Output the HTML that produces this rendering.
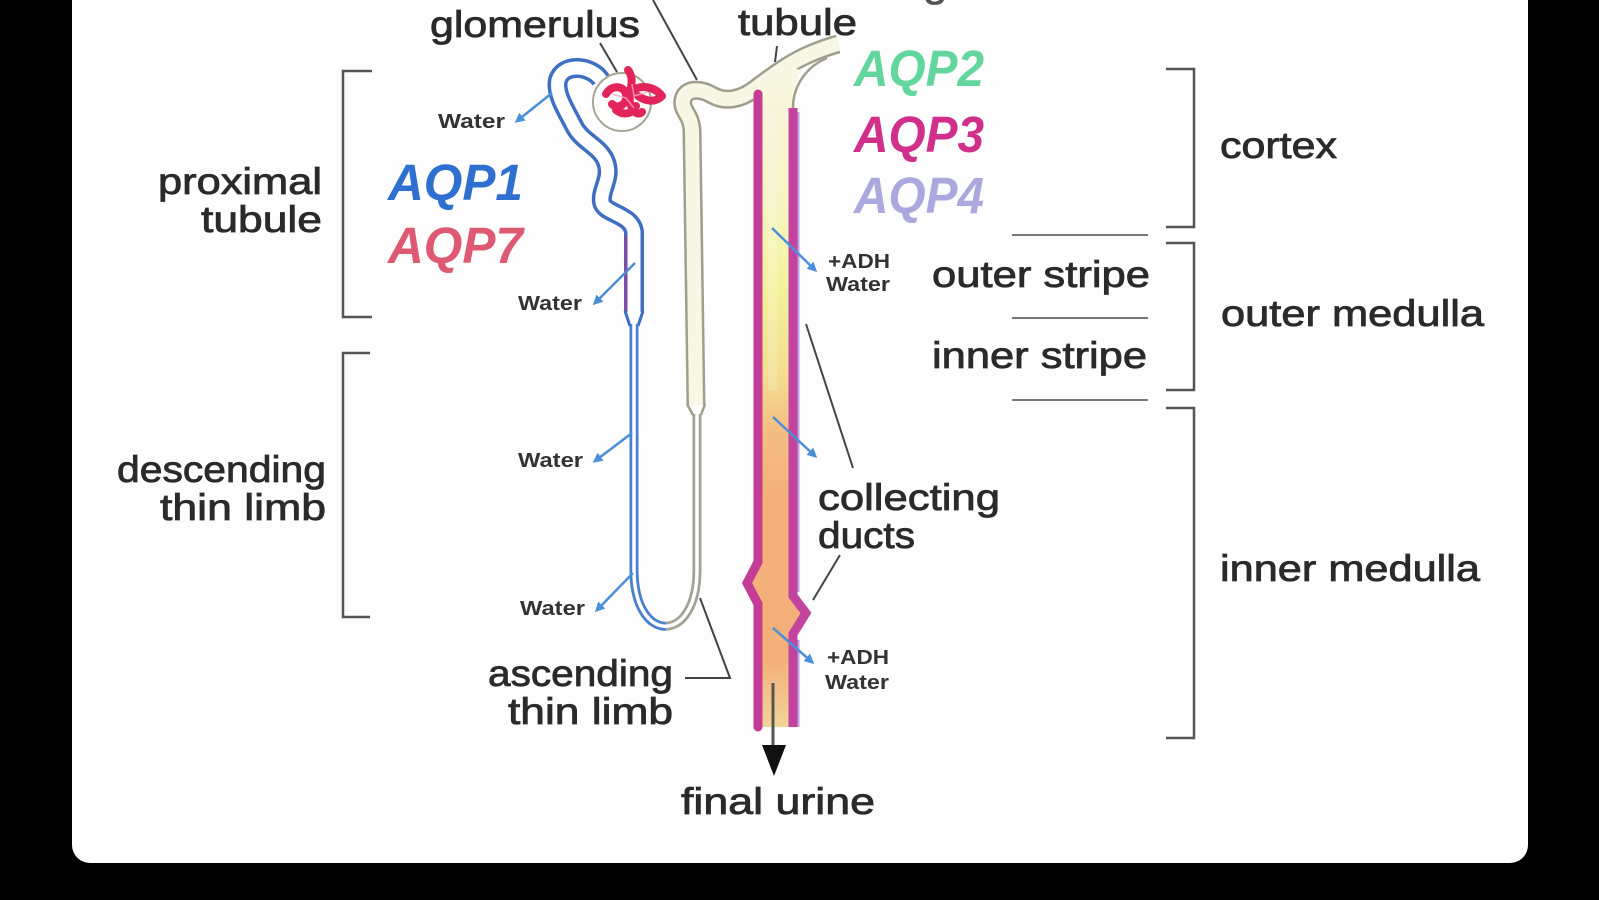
<!DOCTYPE html>
<html><head><meta charset="utf-8"><style>
html,body{margin:0;padding:0;background:#000;}
svg{display:block;}
.t{font-family:"Liberation Sans",sans-serif;font-size:37px;fill:#2a2a2a;stroke:#2a2a2a;stroke-width:0.8px;}
.s{font-family:"Liberation Sans",sans-serif;font-size:20px;font-weight:bold;fill:#333;}
.a{font-family:"Liberation Sans",sans-serif;font-size:51px;font-weight:bold;font-style:italic;}
</style></head><body>
<svg width="1599" height="900" viewBox="0 0 1599 900" xmlns="http://www.w3.org/2000/svg">
<defs>
<linearGradient id="dg" gradientUnits="userSpaceOnUse" x1="0" y1="70" x2="0" y2="727">
<stop offset="0" stop-color="#f9f6e2"/>
<stop offset="0.2" stop-color="#f6f4c4"/>
<stop offset="0.33" stop-color="#f2f39c"/>
<stop offset="0.47" stop-color="#f3dc8e"/>
<stop offset="0.55" stop-color="#f4bd84"/>
<stop offset="0.65" stop-color="#f3b07a"/>
<stop offset="0.9" stop-color="#f3b07a"/>
<stop offset="1" stop-color="#f2d598"/>
</linearGradient>
<marker id="ba" viewBox="0 0 10 10" refX="7" refY="5" markerWidth="4" markerHeight="4" orient="auto">
<path d="M0 0 L10 5 L0 10 z" fill="#4b8fd9"/>
</marker>
</defs>
<rect width="1599" height="900" fill="#000"/>
<rect x="72" y="-30" width="1456" height="893" rx="18" fill="#fdfdfd"/>

<!-- brackets -->
<g stroke="#555" stroke-width="2.5" fill="none">
<path d="M372 71 H343 V317 H372"/>
<path d="M370 353 H343 V617 H370"/>
<path d="M1166 69 H1194 V227 H1166"/>
<path d="M1166 243 H1194 V390 H1166"/>
<path d="M1166 408 H1194 V738 H1166"/>
</g>
<g stroke="#777" stroke-width="2">
<line x1="1012" y1="235" x2="1148" y2="235"/>
<line x1="1012" y1="318" x2="1148" y2="318"/>
<line x1="1012" y1="400" x2="1148" y2="400"/>
</g>

<!-- leaders -->
<g stroke="#444" stroke-width="2" fill="none">
<path d="M653 0 L697 80"/>
<path d="M600 43 L617 72"/>
<path d="M777 46 L775 62"/>
<path d="M806 324 L853 468"/>
<path d="M840 555 L813 600"/>
<path d="M685 678 H730 L700 598"/>
</g>

<!-- glomerulus capsule -->
<circle cx="622" cy="102" r="29" fill="none" stroke="#a3a695" stroke-width="2"/>
<g stroke="#e3245b" stroke-width="8" fill="none" stroke-linecap="round" stroke-linejoin="round">
<path d="M606 94 C612 84 624 86 626 94 C628 104 618 110 612 104"/>
<path d="M628 70 C636 80 628 92 630 102 C632 112 638 116 642 112"/>
<path d="M630 92 C640 84 654 86 662 96 C654 104 644 100 638 96"/>
<path d="M616 110 C624 116 632 114 636 106"/>
</g>
<path d="M612 94 L626 98 L634 108 M632 84 L634 96 L648 92" stroke="#f7a8bd" stroke-width="1.5" fill="none" opacity="0.8"/>

<!-- proximal tubule -->
<path d="M601 80 C592 66 564 62 558 80 C555 94 566 110 574 126 C582 142 600 146 606 162 C612 178 600 190 602 202 C604 214 632 214 634 232 L634 312" stroke="#3f6fc2" stroke-width="20" fill="none"/>
<path d="M601 80 C592 66 564 62 558 80 C555 94 566 110 574 126 C582 142 600 146 606 162 C612 178 600 190 602 202 C604 214 632 214 634 232 L634 312" stroke="#fff" stroke-width="13" fill="none"/>
<line x1="625.8" y1="236" x2="625.8" y2="312" stroke="#7b4fa8" stroke-width="3.5"/>
<path d="M625 311 L630 326 M643 311 L638 326" stroke="#3f6fc2" stroke-width="3" fill="none"/>

<!-- thin limbs -->
<path d="M634 324 L634 570 C634 645 697 645 697 570 L697 414" stroke="#a3a393" stroke-width="9" fill="none"/>
<path d="M634 324 L634 570 C634 607.5 649.75 626.25 665.5 626.25" stroke="#4a80d2" stroke-width="9" fill="none"/>
<path d="M634 324 L634 570 C634 645 697 645 697 570 L697 414" stroke="#fff" stroke-width="3.5" fill="none"/>

<!-- thick ascending limb & connecting tubule -->
<path d="M696 405 L692 130 C691 114 681 111 683 100 C685 88 700 88 712 95 C726 103 742 99 756 88 C772 76 790 62 812 53 C822 49 830 46 838 44" stroke="#a09f8d" stroke-width="19" fill="none"/>
<path d="M696 405 L692 130 C691 114 681 111 683 100 C685 88 700 88 712 95 C726 103 742 99 756 88 C772 76 790 62 812 53 C822 49 830 46 838 44" stroke="#f8f6e4" stroke-width="14" fill="none"/>
<path d="M687 404 L693 415 M705 404 L701 415" stroke="#a09f8d" stroke-width="2.5" fill="none"/>

<!-- collecting duct -->
<path d="M758 92 L770 82 L790 68 L802 70 C795 80 793 95 793 108 L793 596 L806 613 L793 634 L793 727 L758 727 L758 604 L747 583 L758 562 Z" fill="url(#dg)"/>
<rect x="768" y="110" width="9" height="280" fill="#fff" opacity="0.18"/>
<path d="M827 58 C808 66 793 84 793 108" stroke="#a09f8d" stroke-width="2.5" fill="none"/>
<path d="M758 94 L758 562 L747 583 L758 604 L758 727" stroke="#c53c95" stroke-width="9" fill="none" stroke-linecap="round"/>
<path d="M793 108 L793 596 L806 613 L793 634 L793 727" stroke="#c2449f" stroke-width="9" fill="none"/>
<path d="M798.5 112 V592 M798.5 640 V727" stroke="#b89ee2" stroke-width="2" fill="none"/>

<!-- final urine arrow -->
<line x1="773" y1="683" x2="773" y2="748" stroke="#555" stroke-width="3"/>
<polygon points="762,745 786,745 774,776" fill="#111"/>

<!-- water arrows -->
<g stroke="#4b8fd9" stroke-width="2.5" fill="none" marker-end="url(#ba)">
<path d="M552 93 L517 121"/>
<path d="M635 263 L595 303"/>
<path d="M632 433 L595 461"/>
<path d="M633 573 L597 610"/>
<path d="M772 228 L815 270"/>
<path d="M773 417 L815 456"/>
<path d="M773 628 L812 662"/>
</g>

<!-- labels -->
<text class="t" x="740" y="-3" textLength="207" lengthAdjust="spacingAndGlyphs" style="fill:#555;stroke:#555">connecting</text>
<text class="t" x="738" y="35" textLength="119" lengthAdjust="spacingAndGlyphs">tubule</text>
<text class="t" x="430" y="37" textLength="210" lengthAdjust="spacingAndGlyphs">glomerulus</text>
<text class="t" x="158" y="194" textLength="164" lengthAdjust="spacingAndGlyphs">proximal</text>
<text class="t" x="201" y="232" textLength="121" lengthAdjust="spacingAndGlyphs">tubule</text>
<text class="t" x="117" y="482" textLength="209" lengthAdjust="spacingAndGlyphs">descending</text>
<text class="t" x="160" y="520" textLength="166" lengthAdjust="spacingAndGlyphs">thin limb</text>
<text class="t" x="488" y="686" textLength="185" lengthAdjust="spacingAndGlyphs">ascending</text>
<text class="t" x="508" y="724" textLength="165" lengthAdjust="spacingAndGlyphs">thin limb</text>
<text class="t" x="818" y="510" textLength="182" lengthAdjust="spacingAndGlyphs">collecting</text>
<text class="t" x="818" y="548" textLength="97" lengthAdjust="spacingAndGlyphs">ducts</text>
<text class="t" x="681" y="814" textLength="194" lengthAdjust="spacingAndGlyphs">final urine</text>
<text class="t" x="1220" y="158" textLength="117" lengthAdjust="spacingAndGlyphs">cortex</text>
<text class="t" x="932" y="287" textLength="218" lengthAdjust="spacingAndGlyphs">outer stripe</text>
<text class="t" x="932" y="368" textLength="215" lengthAdjust="spacingAndGlyphs">inner stripe</text>
<text class="t" x="1221" y="326" textLength="263" lengthAdjust="spacingAndGlyphs">outer medulla</text>
<text class="t" x="1220" y="581" textLength="260" lengthAdjust="spacingAndGlyphs">inner medulla</text>

<text class="s" x="438" y="128" textLength="67" lengthAdjust="spacingAndGlyphs">Water</text>
<text class="s" x="518" y="310" textLength="64" lengthAdjust="spacingAndGlyphs">Water</text>
<text class="s" x="518" y="467" textLength="65" lengthAdjust="spacingAndGlyphs">Water</text>
<text class="s" x="520" y="615" textLength="65" lengthAdjust="spacingAndGlyphs">Water</text>
<text class="s" x="828" y="268" textLength="62" lengthAdjust="spacingAndGlyphs">+ADH</text>
<text class="s" x="826" y="291" textLength="64" lengthAdjust="spacingAndGlyphs">Water</text>
<text class="s" x="827" y="664" textLength="62" lengthAdjust="spacingAndGlyphs">+ADH</text>
<text class="s" x="825" y="689" textLength="64" lengthAdjust="spacingAndGlyphs">Water</text>

<text class="a" x="388" y="200" fill="#2f6fd0" textLength="135" lengthAdjust="spacingAndGlyphs">AQP1</text>
<text class="a" x="388" y="263" fill="#de5a72" textLength="135" lengthAdjust="spacingAndGlyphs">AQP7</text>
<text class="a" x="854" y="86" fill="#62d69c" textLength="130" lengthAdjust="spacingAndGlyphs">AQP2</text>
<text class="a" x="854" y="152" fill="#d0308a" textLength="130" lengthAdjust="spacingAndGlyphs">AQP3</text>
<text class="a" x="854" y="213" fill="#aaa8dd" textLength="130" lengthAdjust="spacingAndGlyphs">AQP4</text>
</svg>
</body></html>
